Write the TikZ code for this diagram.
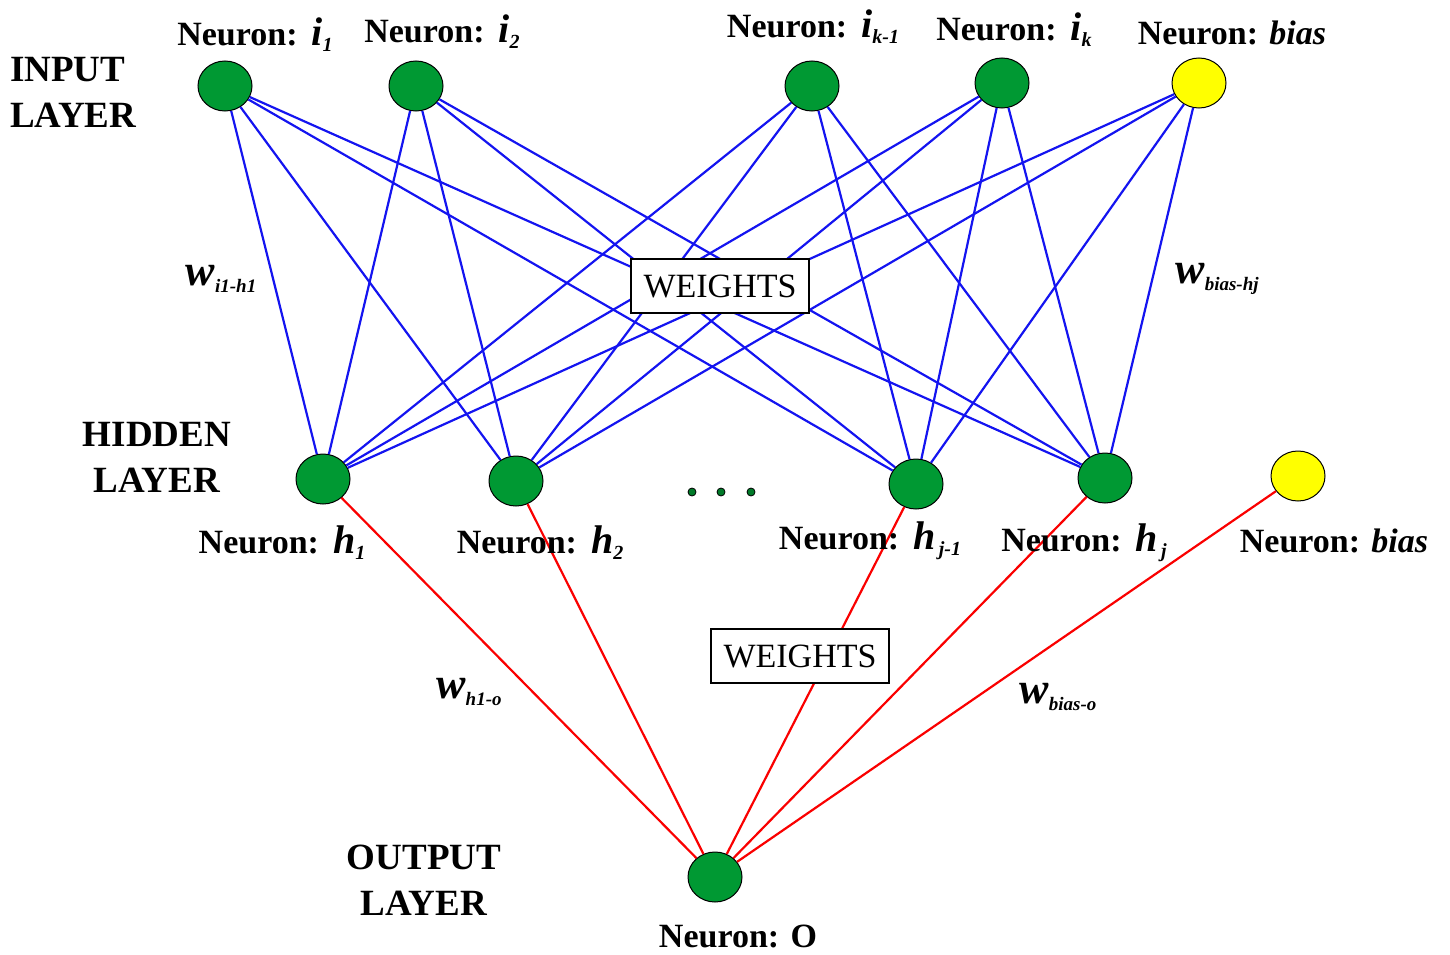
\documentclass[tikz,border=0pt]{standalone}
\usepackage{fontspec}
\setmainfont{Liberation Serif}
\usetikzlibrary{shapes.geometric}
\definecolor{neurongreen}{RGB}{0,153,51}
\definecolor{biasyellow}{RGB}{255,255,0}
\definecolor{linkblue}{RGB}{20,20,240}
\definecolor{linkred}{RGB}{250,0,0}
% neuron symbol with subscript, e.g. i_1, h_j
\newcommand{\nsym}[2]{{\fontsize{40}{40}\selectfont\bfseries\itshape #1}\raisebox{-6pt}{\fontsize{20}{20}\selectfont\bfseries\itshape #2}}
% weight symbol w with subscript
\newcommand{\wsym}[1]{{\fontsize{44}{44}\selectfont\bfseries\itshape w}\raisebox{-7pt}{\fontsize{19}{19}\selectfont\bfseries\itshape #1}}
\begin{document}
\begin{tikzpicture}[x=1pt,y=-1pt,
  neuron/.style={ellipse, draw=black, line width=1pt, fill=neurongreen,
    minimum width=54pt, minimum height=50pt, inner sep=0pt},
  biasneuron/.style={neuron, fill=biasyellow},
  inlink/.style={draw=linkblue, line width=2.2pt},
  outlink/.style={draw=linkred, line width=2.2pt},
  wbox/.style={draw=black, line width=2.5pt, fill=white, minimum width=178pt,
    minimum height=54pt, inner sep=0pt, font=\fontsize{34}{34}\selectfont},
  nlabel/.style={anchor=base, inner sep=0pt, font=\fontsize{34}{34}\selectfont\bfseries},
  layerlbl/.style={inner sep=0pt, font=\fontsize{37}{46}\selectfont\bfseries},
  wlabel/.style={anchor=base, inner sep=0pt},
  smalldot/.style={circle, fill=neurongreen!80!black, draw=black, line width=0.8pt,
    minimum size=8pt, inner sep=0pt}
]
\useasboundingbox (0,0) rectangle (1450,955);

% input layer
\node[neuron] (i1) at (225,86) {};
\node[neuron] (i2) at (416,86) {};
\node[neuron] (ik1) at (812,86) {};
\node[neuron] (ik) at (1002,83) {};
\node[biasneuron] (ib) at (1199,83) {};

% hidden layer
\node[neuron] (h1) at (323,479) {};
\node[neuron] (h2) at (516,481) {};
\node[neuron] (hj1) at (916,484) {};
\node[neuron] (hj) at (1105,478) {};
\node[biasneuron] (hb) at (1298,476) {};

% output layer
\node[neuron] (o) at (715,877) {};

% input -> hidden connections
\foreach \a in {i1,i2,ik1,ik,ib}
  \foreach \b in {h1,h2,hj1,hj}
    \draw[inlink] (\a) -- (\b);

% hidden -> output connections
\foreach \a in {h1,h2,hj1,hj,hb}
  \draw[outlink] (\a) -- (o);

% weight boxes on top of the links
\node[wbox] (wb1) at (720,286) {WEIGHTS};
\node[wbox] (wb2) at (800,656) {WEIGHTS};

% omitted hidden neurons
\node[smalldot] (d1) at (692,492) {};
\node[smalldot] (d2) at (721,492) {};
\node[smalldot] (d3) at (751,492) {};

% neuron labels
\node[nlabel] (li1) at (255,46) {Neuron:\hspace{14pt}\nsym{i}{1}};
\node[nlabel] (li2) at (442,43) {Neuron:\hspace{14pt}\nsym{i}{2}};
\node[nlabel] (lik1) at (813,38) {Neuron:\hspace{14pt}\nsym{i}{k-1}};
\node[nlabel] (lik) at (1014,41) {Neuron:\hspace{14pt}\nsym{i}{k}};
\node[nlabel] (lib) at (1232,45) {Neuron: \textit{bias}};

\node[nlabel] (lh1) at (282,553) {Neuron:\hspace{14pt}\nsym{h}{1}};
\node[nlabel] (lh2) at (540,553) {Neuron:\hspace{14pt}\nsym{h}{2}};
\node[nlabel] (lhj1) at (870,549) {Neuron:\hspace{14pt}\nsym{h}{\,j-1}};
\node[nlabel] (lhj) at (1084,551) {Neuron:\hspace{14pt}\nsym{h}{\,j}};
\node[nlabel] (lhb) at (1334,552) {Neuron: \textit{bias}};

\node[nlabel] (lo) at (738,947) {Neuron: O};

% layer labels
\node[layerlbl, anchor=west, align=left] (lin) at (10,92) {INPUT\\LAYER};
\node[layerlbl, align=center] (lhid) at (157,457) {HIDDEN\\LAYER};
\node[layerlbl, align=center] (lout) at (424,880) {OUTPUT\\LAYER};

% weight labels
\node[wlabel] (w1) at (221,285) {\wsym{i1-h1}};
\node[wlabel] (w2) at (1217,283) {\wsym{bias-hj}};
\node[wlabel] (w3) at (469,698) {\wsym{h1-o}};
\node[wlabel] (w4) at (1058,703) {\wsym{bias-o}};
\end{tikzpicture}
\end{document}
